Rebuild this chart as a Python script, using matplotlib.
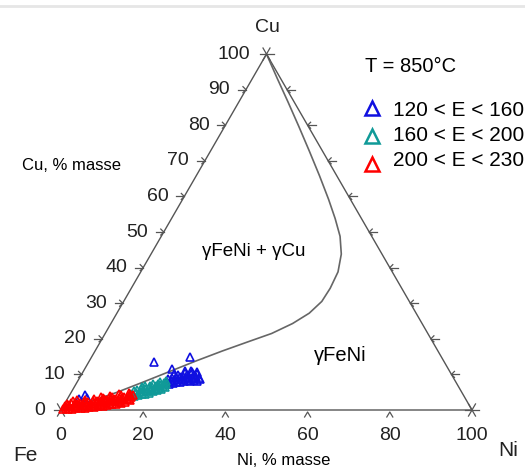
import numpy as np
import matplotlib
matplotlib.use("Agg")
import matplotlib.pyplot as plt

plt.rcParams['font.family'] = ['Liberation Sans', 'DejaVu Sans']

# --- données (Ni %, Cu %) ---
ni_red = [0.5, 0.5, 0.5, 1.5, 1.5, 1.5, 1.5, 2.5, 2.5, 2.5, 2.5, 3.5, 3.5, 3.5,
          4.5, 4.5, 4.5, 4.5, 5.5, 5.5, 5.5, 6.5, 6.5, 6.5, 6.5, 7.5, 7.5, 7.5,
          8.5, 8.5, 8.5, 8.5, 9.5, 9.5, 9.5, 10.5, 10.5, 10.5, 10.5, 11.5, 11.5, 11.5,
          12.5, 12.5, 12.5, 12.5, 13.5, 13.5, 13.5, 14.5, 14.5, 14.5, 14.5, 15.3, 15.3, 15.3,
          1.0, 1.0, 3.0, 3.0, 5.0, 5.0, 7.0, 7.0, 9.0, 9.0, 9.0, 11.0, 11.0, 13.0, 13.0, 15.0,
          10.0, 12.0, 14.0, 8.0]
cu_red = [0.2, 1.0, 1.8, 0.3, 1.1, 1.9, 2.6, 0.4, 1.2, 2.0, 2.7, 0.5, 1.3, 2.1,
          0.6, 1.4, 2.2, 2.9, 0.7, 1.5, 2.3, 0.8, 1.6, 2.4, 3.1, 0.9, 1.7, 2.5,
          1.0, 1.8, 2.6, 3.3, 1.2, 2.0, 2.8, 1.4, 2.2, 3.0, 3.7, 1.6, 2.4, 3.2,
          1.8, 2.6, 3.4, 4.1, 2.0, 2.8, 3.6, 2.3, 3.1, 3.9, 4.5, 2.8, 3.6, 4.3,
          0.6, 1.5, 0.9, 1.7, 1.0, 1.9, 1.2, 2.1, 1.4, 2.3, 3.0, 1.8, 2.7, 2.3, 3.1, 3.2,
          4.0, 4.4, 4.9, 3.6]

ni_teal = [15.0, 15.0, 15.0, 15.8, 15.8, 15.8, 16.6, 16.6, 16.6, 16.6, 17.4, 17.4, 17.4,
           18.2, 18.2, 18.2, 18.2, 19.0, 19.0, 19.0, 19.8, 19.8, 19.8, 19.8,
           20.6, 20.6, 20.6, 21.4, 21.4, 21.4, 21.4, 22.0, 22.0, 17.0, 18.6, 20.2]
cu_teal = [3.8, 4.6, 5.4, 4.0, 4.8, 5.6, 4.2, 5.0, 5.8, 6.4, 4.4, 5.2, 6.0,
           4.6, 5.4, 6.2, 6.8, 4.9, 5.7, 6.5, 5.2, 6.0, 6.8, 7.4,
           5.5, 6.3, 7.1, 5.9, 6.7, 7.5, 8.1, 6.5, 7.3, 6.8, 7.4, 8.0]

ni_blue = [21.8, 21.8, 22.6, 22.6, 22.6, 23.4, 23.4, 23.4, 23.4, 24.2, 24.2, 24.2,
           25.0, 25.0, 25.0, 25.0, 25.8, 25.8, 25.8, 26.6, 26.6, 26.6, 26.6,
           27.4, 27.4, 27.4, 28.2, 28.2, 28.2, 29.0, 29.0, 29.6, 24.6, 26.2, 27.8,
           16.0, 24.0, 21.2, 22.5, 3.7, 4.5, 2.8]
cu_blue = [7.8, 8.6, 7.4, 8.2, 9.0, 7.6, 8.4, 9.2, 9.9, 7.8, 8.6, 9.4,
           8.0, 8.8, 9.6, 10.3, 8.2, 9.0, 9.8, 8.4, 9.2, 10.0, 10.7,
           8.2, 9.0, 9.8, 8.4, 9.2, 10.0, 8.2, 9.0, 8.6, 10.9, 11.0, 10.6,
           13.4, 14.8, 11.6, 10.2, 4.2, 3.5, 3.0]

# limite yFeNi / yFeNi + yCu (Ni %, Cu %)
ni_lim = [0, 6, 12, 18, 24, 30, 35.5, 39.8, 43.5, 46.3, 48.0, 48.4, 48.2, 46.8,
          44.2, 40.5, 36, 31, 26, 21, 16, 11, 6, 2, 0]
cu_lim = [100, 93.2, 86.5, 79.7, 72.8, 65.8, 59.2, 53.8, 48.8, 43.8, 38.8, 34.2,
          30.5, 27.2, 24.3, 21.5, 19.2, 16.6, 13.8, 10.8, 7.8, 4.9, 2.4, 0.7, 0]

cu_ticks = [0, 10, 20, 30, 40, 50, 60, 70, 80, 90, 100]
ni_ticks = [0, 20, 40, 60, 80, 100]
legend_labels = ['120 < E < 160', '160 < E < 200', '200 < E < 230']
colors = ['#1010e0', '#109a98', '#ff0000']

S = 4.11  # pixels par %


def tern(ni, cu):
    ni = np.asarray(ni, float)
    cu = np.asarray(cu, float)
    return ni + cu / 2, cu * np.sqrt(3) / 2


def px(x, y):
    return (x - 61) / S, (410 - y) / S


d = 1 / S  # 1 pixel en unités

fig = plt.figure(figsize=(5.25, 4.73), dpi=100)
ax = fig.add_axes([0, 0, 1, 1])
ax.set_xlim(px(0, 0)[0], px(525, 0)[0])
ax.set_ylim(px(0, 473)[1], px(0, 0)[1])
ax.axis('off')

# bande grise en haut
ax.plot([px(0, 6)[0], px(525, 6)[0]], [px(0, 6)[1]] * 2, color='#e6e6e6', lw=2)

lc = '#555555'
# triangle
tx, ty = tern([0, 100, 0, 0], [0, 0, 100, 0])
ax.plot(tx, ty, color=lc, lw=1.0, zorder=2)

# courbe limite
cx, cy = tern(ni_lim, cu_lim)
ax.plot(cx, cy, color='#666666', lw=1.2, zorder=2)

# graduations gauche (Cu)
for c in cu_ticks[1:-1]:
    x0, y0 = tern(0, c)
    ax.plot([x0 - 8 * d, x0], [y0, y0], color=lc, lw=0.9)
    ax.plot([x0 - 3 * d, x0, x0 - 3 * d], [y0 + 3 * d, y0, y0 - 3 * d], color=lc, lw=0.9)
for c in cu_ticks:
    x0, y0 = tern(0, c)
    ax.text(x0 - 16 * d, y0, str(c), ha='right', va='center', fontsize=14, color='#222222')

# graduations droite
for c in cu_ticks[1:-1]:
    x0, y0 = tern(100 - c, c)
    ax.plot([x0, x0 + 8 * d], [y0, y0], color=lc, lw=0.9)
    ax.plot([x0 + 3 * d, x0, x0 + 3 * d], [y0 + 3 * d, y0, y0 - 3 * d], color=lc, lw=0.9)

# graduations bas (Ni)
for n in ni_ticks[1:-1]:
    x0, y0 = tern(n, 0)
    ax.plot([x0 - 3 * d, x0, x0 + 3 * d], [y0 - 7 * d, y0 - 2 * d, y0 - 7 * d], color=lc, lw=0.9)
for n in ni_ticks:
    x0, y0 = tern(n, 0)
    ax.text(x0, y0 - 25 * d, str(n), ha='center', va='center', fontsize=14, color='#222222')

# étoiles aux sommets
for n, c in [(0, 0), (100, 0), (0, 100)]:
    x0, y0 = tern(n, c)
    for ang in [0, 60, 120]:
        dx, dy = 7 * d * np.cos(np.radians(ang)), 7 * d * np.sin(np.radians(ang))
        ax.plot([x0 - dx, x0 + dx], [y0 - dy, y0 + dy], color=lc, lw=0.9)

# points
for ni, cu, col in [(ni_blue, cu_blue, colors[0]), (ni_teal, cu_teal, colors[1]),
                    (ni_red, cu_red, colors[2])]:
    x, y = tern(ni, cu)
    ax.plot(x, y, '^', ms=6, mfc='none', mec=col, mew=1.2, ls='none', zorder=3)

# textes
ax.text(*px(267, 27), 'Cu', ha='center', va='center', fontsize=14, color='#222222')
ax.text(*px(25, 455), 'Fe', ha='center', va='center', fontsize=15, color='#222222')
ax.text(*px(508, 450), 'Ni', ha='center', va='center', fontsize=15, color='#222222')
ax.text(*px(71, 165), 'Cu, % masse', ha='center', va='center', fontsize=12)
ax.text(*px(284, 460), 'Ni, % masse', ha='center', va='center', fontsize=12)
ax.text(*px(254, 251), 'γFeNi + γCu', ha='center', va='center', fontsize=13.5)
ax.text(*px(340, 355), 'γFeNi', ha='center', va='center', fontsize=14.5)
ax.text(*px(365, 66), 'T = 850°C', ha='left', va='center', fontsize=14.5)

# légende
for i, (lab, col) in enumerate(zip(legend_labels, colors)):
    ax.plot(*px(371.5, 108 + 28 * i), '^', ms=9.5, mfc='none', mec=col, mew=1.8)
    ax.text(*px(393, 110 + 25 * i), lab, ha='left', va='center', fontsize=15)

fig.savefig('out.png', dpi=100)
